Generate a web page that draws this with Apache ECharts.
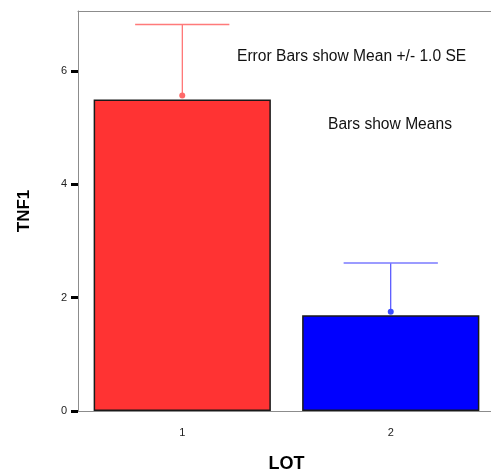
<!DOCTYPE html>
<html>
<head>
<meta charset="utf-8">
<script src="https://cdn.jsdelivr.net/npm/echarts@6/dist/echarts.min.js"></script>
<style>
html,body{margin:0;padding:0;background:#fff;}
#chart{width:491px;height:472px;}
</style>
</head>
<body>
<div id="chart"></div>
<script>
var categories = ['1', '2'];
var barMeans = [5.50, 1.69];
var markerMeans = [5.57, 1.75];
var upperSE = [6.82, 2.61];
var yTicks = [0, 2, 4, 6];
var barColors = ['#FF3333', '#0000FF'];
var errColors = ['#FF4D4D', '#2B2BFF'];
var capColors = ['#FF7A7A', '#7A7AFF'];
var dotColors = ['#FF6A6A', '#3A4CFF'];

var chart = echarts.init(document.getElementById('chart'));
var errData = categories.map(function (c, i) { return [i, markerMeans[i], upperSE[i]]; });

chart.setOption({
  animation: false,
  grid: { left: 78, top: 11, right: -4, bottom: 61, outerBoundsMode: 'none', containLabel: false, show: false },
  xAxis: [{
    type: 'category', data: categories,
    axisLine: { lineStyle: { color: '#8c8c8c', width: 1 } },
    axisTick: { alignWithLabel: true, length: 5, lineStyle: { color: '#000', width: 3 } },
    axisLabel: { color: '#222', fontSize: 11, fontFamily: 'Liberation Sans', margin: 16 },
    name: 'LOT', nameLocation: 'middle', nameGap: 44,
    nameTextStyle: { fontSize: 18, fontWeight: 'bold', fontFamily: 'Liberation Sans', color: '#000' }
  }, {
    type: 'category', data: categories, position: 'top',
    axisLine: { show: true, lineStyle: { color: '#8c8c8c', width: 1 } },
    axisTick: { show: false }, axisLabel: { show: false }
  }],
  yAxis: {
    type: 'value', min: 0, max: 7.06, interval: 2,
    splitLine: { show: false },
    axisLine: { show: true, lineStyle: { color: '#8c8c8c', width: 1 } },
    axisTick: { show: true, length: 7, customValues: yTicks, lineStyle: { color: '#000', width: 3 } },
    axisLabel: { color: '#222', fontSize: 11, fontFamily: 'Liberation Sans', margin: 11, customValues: yTicks },
    name: 'TNF1', nameLocation: 'middle', nameGap: 45,
    nameTextStyle: { fontSize: 17, fontWeight: 'bold', fontFamily: 'Liberation Sans', color: '#000' }
  },
  series: [
    {
      type: 'bar', barCategoryGap: '15%',
      data: barMeans.map(function (v, i) {
        return { value: v, itemStyle: { color: barColors[i], borderColor: '#1a1a1a', borderWidth: 1.5 } };
      }),
      z: 2
    },
    {
      type: 'custom', data: errData, z: 3,
      renderItem: function (params, api) {
        var i = api.value(0);
        var mean = api.coord([i, api.value(1)]);
        var top = api.coord([i, api.value(2)]);
        var half = api.size([1, 0])[0] * 0.226;
        return {
          type: 'group',
          children: [
            { type: 'line', shape: { x1: mean[0], y1: mean[1], x2: top[0], y2: top[1] }, style: { stroke: errColors[i], lineWidth: 1 } },
            { type: 'line', shape: { x1: top[0] - half, y1: top[1], x2: top[0] + half, y2: top[1] }, style: { stroke: capColors[i], lineWidth: 1.5 } },
            { type: 'circle', shape: { cx: mean[0], cy: mean[1], r: 3 }, style: { fill: dotColors[i] } }
          ]
        };
      }
    }
  ],
  graphic: [
    { type: 'text', left: 237, top: 49, style: { text: 'Error Bars show Mean +/- 1.0 SE', fontSize: 15.6, fontFamily: 'Liberation Sans', fill: '#111' } },
    { type: 'text', left: 328, top: 117, style: { text: 'Bars show Means', fontSize: 15.6, fontFamily: 'Liberation Sans', fill: '#111' } }
  ]
});
</script>
</body>
</html>
